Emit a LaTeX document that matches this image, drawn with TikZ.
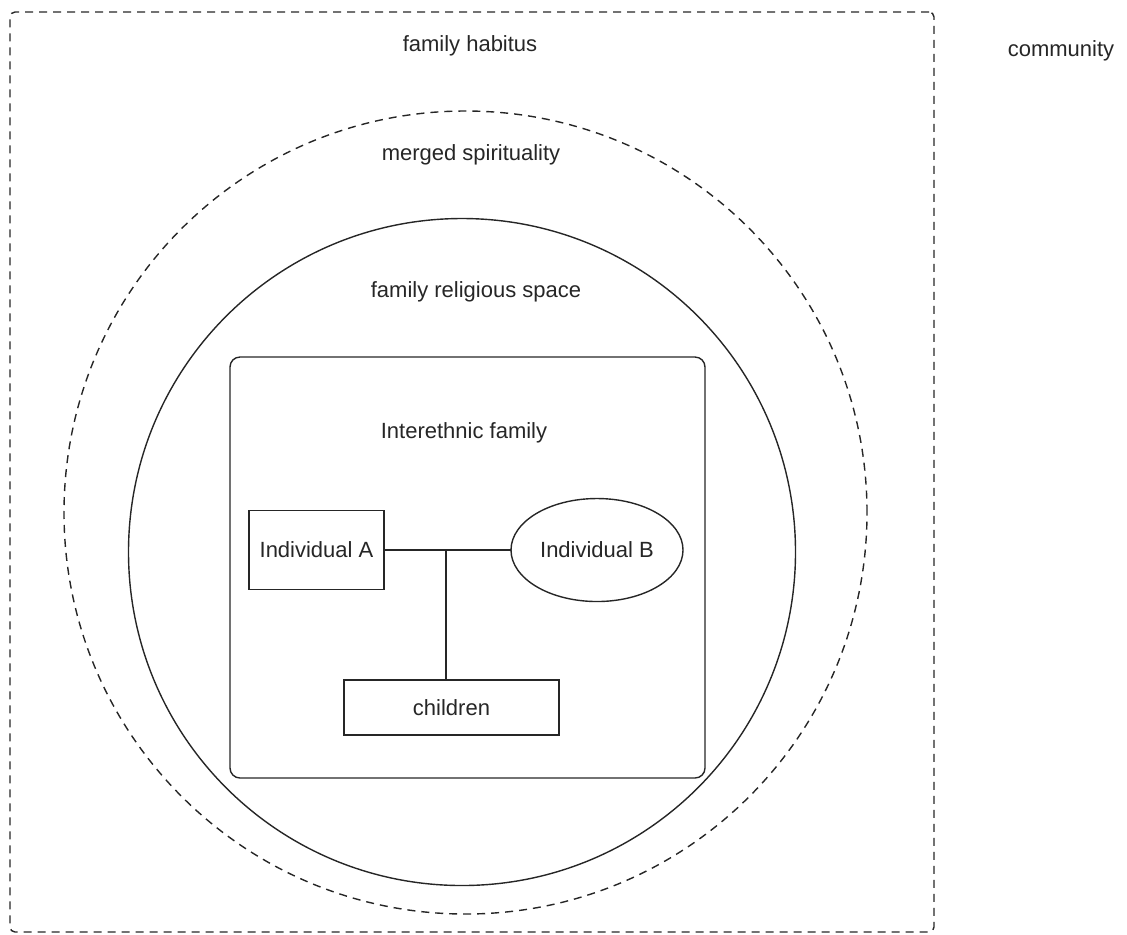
\documentclass[tikz,border=0pt]{standalone}
\usepackage{fontspec}
\setmainfont{Liberation Sans}
\usetikzlibrary{shapes.geometric}
\begin{document}
\begin{tikzpicture}[x=0.5pt,y=-0.5pt,
  every node/.style={inner sep=0pt,outer sep=0pt,font=\fontsize{11}{13}\selectfont,text=black!85},
  ln/.style={line width=0.7pt,draw=black!85},
  dsh/.style={ln,dash pattern=on 4pt off 3pt},
  lbl/.style={}]
\useasboundingbox (0,0) rectangle (1127,934);
\node[dsh,rectangle,rounded corners=2.5pt,minimum width=462pt,minimum height=460pt] (habitus) at (472,472) {};
\node[dsh,circle,minimum size=401.5pt] (merged) at (465.5,512.5) {};
\node[ln,circle,minimum size=333.5pt] (space) at (462,552) {};
\node[ln,rectangle,rounded corners=5pt,minimum width=237.5pt,minimum height=210.5pt] (family) at (467.5,567.5) {};
\node[ln,rectangle,minimum width=67.5pt,minimum height=39.5pt] (A) at (316.5,550) {Individual A};
\node[ln,ellipse,minimum width=86pt,minimum height=51.5pt] (B) at (597,550) {Individual B};
\node[ln,rectangle,minimum width=107.5pt,minimum height=27.5pt] (ch) at (451.5,707.5) {children};
\node[lbl] (tHab) at (470,46) {family habitus};
\node[lbl] (tCom) at (1061,51) {community};
\node[lbl] (tMer) at (471,155) {merged spirituality};
\node[lbl] (tSpa) at (476,292) {family religious space};
\node[lbl] (tFam) at (464,433) {Interethnic family};
\coordinate (j) at (446,550);
\draw[ln] (A.east) -- (B.west);
\draw[ln] (j) -- (j |- ch.north);
\end{tikzpicture}
\end{document}
